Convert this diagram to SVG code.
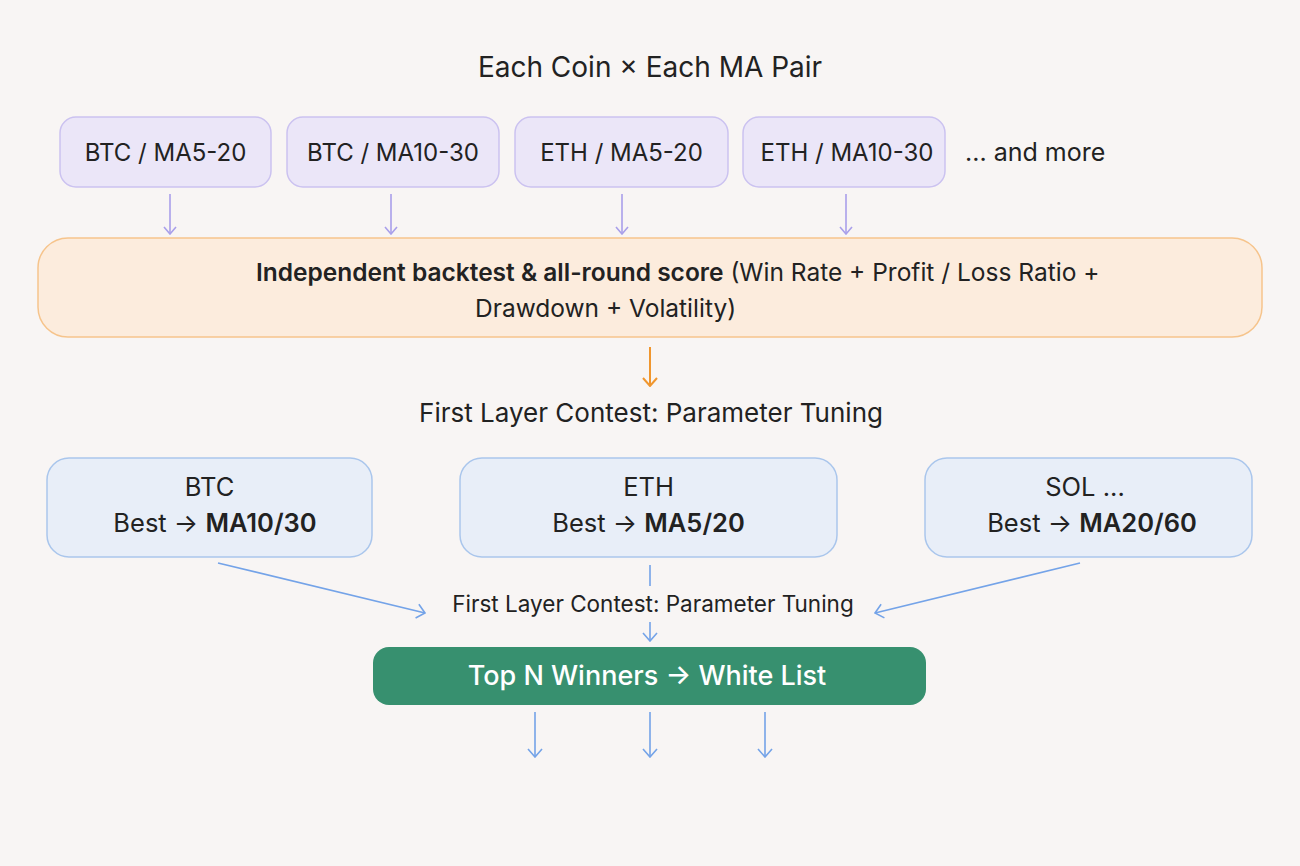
<svg xmlns="http://www.w3.org/2000/svg" width="1300" height="866" viewBox="0 0 1300 866">
<defs>
<style>
text{font-family:Inter,"Noto Sans","Liberation Sans",sans-serif;fill:#222;}
.pair rect{fill:#ebe6f8;stroke:#cbc2f0;stroke-width:1.5;}
.pair text{font-size:24px;text-anchor:middle;}
.best rect{fill:#e8eef8;stroke:#aac6ec;stroke-width:1.5;}
.best text{font-size:25.5px;text-anchor:middle;}
.pl{stroke:#a99fea;stroke-width:1.6;fill:none;}
.bl{stroke:#74a3e8;stroke-width:1.6;fill:none;}
.ol{stroke:#f0962e;stroke-width:2;fill:none;}
</style>
<marker id="ap" viewBox="0 0 14 14" refX="13" refY="7" markerWidth="14" markerHeight="14" markerUnits="userSpaceOnUse" orient="auto"><path d="M6,1 L13,7 L6,13" fill="none" stroke="#a99fea" stroke-width="1.6"/></marker>
<marker id="ab" viewBox="0 0 16 16" refX="15" refY="8" markerWidth="16" markerHeight="16" markerUnits="userSpaceOnUse" orient="auto"><path d="M7,1 L15,8 L7,15" fill="none" stroke="#74a3e8" stroke-width="1.6"/></marker>
<marker id="ao" viewBox="0 0 16 16" refX="15" refY="8" markerWidth="16" markerHeight="16" markerUnits="userSpaceOnUse" orient="auto"><path d="M7,1 L15,8 L7,15" fill="none" stroke="#f0962e" stroke-width="2"/></marker>
</defs>
<rect width="1300" height="866" fill="#f8f5f4"/>
<text x="650" y="77" font-size="28" text-anchor="middle">Each Coin × Each MA Pair</text>

<g id="n-btc-ma5-20" class="pair"><rect x="60" y="117" width="211" height="70" rx="16"/><text x="165.5" y="161">BTC / MA5-20</text></g>
<g id="n-btc-ma10-30" class="pair"><rect x="287" y="117" width="212" height="70" rx="16"/><text x="393" y="161">BTC / MA10-30</text></g>
<g id="n-eth-ma5-20" class="pair"><rect x="515" y="117" width="213" height="70" rx="16"/><text x="621.5" y="161">ETH / MA5-20</text></g>
<g id="n-eth-ma10-30" class="pair"><rect x="743" y="117" width="202" height="70" rx="16"/><text x="847" y="161">ETH / MA10-30</text></g>
<g id="n-more"><text x="965" y="161" font-size="25">... and more</text></g>

<g id="n-backtest"><rect x="38" y="238" width="1224" height="99" rx="30" fill="#fcecdd" stroke="#f6c48c" stroke-width="1.5"/>
<text x="256" y="281" font-size="24.5"><tspan font-weight="600">Independent backtest &amp; all-round score</tspan> (Win Rate + Profit / Loss Ratio +</text>
<text x="475" y="317" font-size="24.5">Drawdown + Volatility)</text></g>

<g id="n-contest1"><text x="651" y="422" font-size="26" text-anchor="middle">First Layer Contest: Parameter Tuning</text></g>

<g id="n-btc-best" class="best"><rect x="47" y="458" width="325" height="99" rx="22"/><text x="209.5" y="496">BTC</text><text x="215" y="532">Best → <tspan font-weight="600">MA10/30</tspan></text></g>
<g id="n-eth-best" class="best"><rect x="460" y="458" width="377" height="99" rx="22"/><text x="648.5" y="496">ETH</text><text x="648.5" y="532">Best → <tspan font-weight="600">MA5/20</tspan></text></g>
<g id="n-sol-best" class="best"><rect x="925" y="458" width="327" height="99" rx="22"/><text x="1085" y="496">SOL ...</text><text x="1092" y="532">Best → <tspan font-weight="600">MA20/60</tspan></text></g>

<g id="n-contest2"><text x="653" y="612" font-size="22.5" text-anchor="middle">First Layer Contest: Parameter Tuning</text></g>

<g id="n-winners"><rect x="373" y="647" width="553" height="58" rx="16" fill="#37906f"/><text x="647" y="685" font-size="27" font-weight="500" text-anchor="middle" style="fill:#fff">Top N Winners → White List</text></g>

<g id="connectors">
<line class="pl" x1="170" y1="194" x2="170" y2="234" marker-end="url(#ap)"/>
<line class="pl" x1="391" y1="194" x2="391" y2="234" marker-end="url(#ap)"/>
<line class="pl" x1="622" y1="194" x2="622" y2="234" marker-end="url(#ap)"/>
<line class="pl" x1="846" y1="194" x2="846" y2="234" marker-end="url(#ap)"/>
<line class="ol" x1="650" y1="347" x2="650" y2="386" marker-end="url(#ao)"/>
<line class="bl" x1="218" y1="563" x2="425" y2="613" marker-end="url(#ab)"/>
<line class="bl" x1="1080" y1="563" x2="875" y2="613" marker-end="url(#ab)"/>
<line class="bl" x1="650" y1="565" x2="650" y2="586"/>
<line class="bl" x1="650" y1="622" x2="650" y2="641" marker-end="url(#ab)"/>
<line class="bl" x1="535" y1="712" x2="535" y2="757" marker-end="url(#ab)"/>
<line class="bl" x1="650" y1="712" x2="650" y2="757" marker-end="url(#ab)"/>
<line class="bl" x1="765" y1="712" x2="765" y2="757" marker-end="url(#ab)"/>
</g>
</svg>
